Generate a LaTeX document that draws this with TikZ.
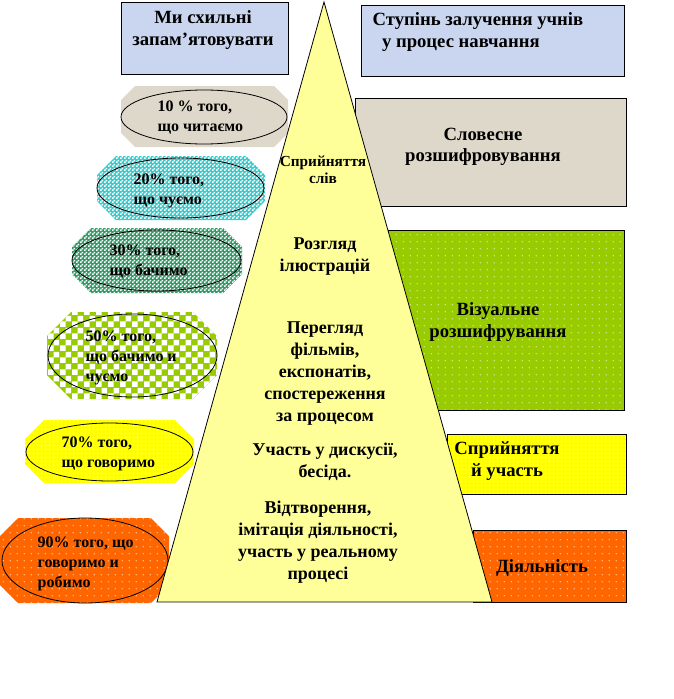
\documentclass[tikz,border=0pt]{standalone}
\usepackage{fontspec}
\setmainfont{Liberation Serif}
\usetikzlibrary{patterns}

\definecolor{topblue}{RGB}{202,214,240}
\definecolor{sand}{RGB}{222,216,202}
\definecolor{pyryellow}{RGB}{255,255,153}
\definecolor{leaf}{RGB}{153,204,0}
\definecolor{fire}{RGB}{255,102,0}
\definecolor{sea}{RGB}{51,153,102}
\definecolor{aqua}{RGB}{51,204,204}
\definecolor{lemon}{RGB}{255,255,0}

\pgfdeclarepatternformonly{finechecks}{\pgfpointorigin}{\pgfqpoint{3pt}{3pt}}{\pgfqpoint{3pt}{3pt}}{%
  \pgfpathrectangle{\pgfpointorigin}{\pgfqpoint{1.5pt}{1.5pt}}%
  \pgfpathrectangle{\pgfqpoint{1.5pt}{1.5pt}}{\pgfqpoint{1.5pt}{1.5pt}}%
  \pgfusepath{fill}}
\pgfdeclarepatternformonly{bigchecks}{\pgfpointorigin}{\pgfqpoint{9pt}{9pt}}{\pgfqpoint{9pt}{9pt}}{%
  \pgfpathrectangle{\pgfpointorigin}{\pgfqpoint{4.5pt}{4.5pt}}%
  \pgfpathrectangle{\pgfqpoint{4.5pt}{4.5pt}}{\pgfqpoint{4.5pt}{4.5pt}}%
  \pgfusepath{fill}}
\pgfdeclarepatternformonly{whitedots}{\pgfpointorigin}{\pgfqpoint{5pt}{5pt}}{\pgfqpoint{5pt}{5pt}}{%
  \pgfpathcircle{\pgfqpoint{2.5pt}{2.5pt}}{0.45pt}%
  \pgfusepath{fill}}
\pgfdeclarepatternformonly{bubbledots}{\pgfpointorigin}{\pgfqpoint{3pt}{3pt}}{\pgfqpoint{3pt}{3pt}}{%
  \pgfpathcircle{\pgfqpoint{1.5pt}{1.5pt}}{0.75pt}%
  \pgfusepath{fill}}

% octagon-like fill round each bubble
\newcommand{\octagon}[5]{(#1+#5,#2) -- (#3-#5,#2) -- (#3,#2+#5) -- (#3,#4-#5) -- (#3-#5,#4) -- (#1+#5,#4) -- (#1,#4-#5) -- (#1,#2+#5) -- cycle}

\begin{document}
\begin{tikzpicture}[x=0.75pt, y=-0.75pt,
    outline/.style={draw=black, line width=0.6pt},
    headtext/.style={font=\fontsize{14}{17}\selectfont\bfseries, align=center},
    boxtext/.style={font=\fontsize{14}{16}\selectfont\bfseries, align=center},
    pyrtext/.style={font=\fontsize{13.5}{16.5}\selectfont\bfseries, align=center},
    bubtext/.style={font=\fontsize{12}{15}\selectfont\bfseries, align=left, anchor=west},
    aquafill/.style={preaction={fill=aqua}, pattern=finechecks, pattern color=white},
    seafill/.style={preaction={fill=sea}, pattern=finechecks, pattern color=white},
    leafchecks/.style={preaction={fill=leaf}, pattern=bigchecks, pattern color=white},
    leafdots/.style={preaction={fill=leaf}, pattern=whitedots, pattern color=white},
    firedots/.style={preaction={fill=fire}, pattern=whitedots, pattern color=white},
    lemonfill/.style={preaction={fill=lemon}, pattern=bubbledots, pattern color=white!70!lemon}]
    \useasboundingbox[fill=white] (0,0) rectangle (674,699);

    % Draw the heading boxes
    \draw[outline, fill=topblue] (121,2) rectangle (288,74);
    \draw[outline, fill=topblue] (361,5) rectangle (624,76);
    \node[headtext] (memory) at (203,30) {Ми схильні\\запам’ятовувати};
    \node[headtext, align=left, anchor=west] (engage) at (368,32) {Ступінь залучення учнів\\\ \ у процес навчання};

    % Draw the bubbles on the left
    \fill[sand] \octagon{121}{86}{288}{147}{14};
    \draw[outline] (204,117) ellipse [x radius=83, y radius=27];
    \fill[aquafill] \octagon{97}{156}{265}{220}{19};
    \draw[outline] (180.5,188) ellipse [x radius=83.5, y radius=30];
    \fill[seafill] \octagon{72}{228}{242}{293}{19};
    \draw[outline] (156.5,260.5) ellipse [x radius=84.5, y radius=30.5];
    \fill[leafchecks] \octagon{47}{312}{217}{399}{24};
    \draw[outline] (132.5,355.5) ellipse [x radius=84.5, y radius=41.5];
    \fill[lemonfill] \octagon{25}{420}{194}{483}{19};
    \draw[outline] (109.5,452) ellipse [x radius=83.5, y radius=29];
    \fill[firedots] \octagon{0}{518}{169}{603}{18};
    \draw[outline] (85,560.5) ellipse [x radius=83, y radius=42.5];

    % Labels in the bubbles
    \node[bubtext] (read) at (153,118) {10 \% того,\\ що читаємо};
    \node[bubtext] (hear) at (129,191) {20\% того,\\що чуємо};
    \node[bubtext] (see) at (105,262) {30\% того,\\що бачимо};
    \node[bubtext] (watch) at (81,358) {50\% того,\\що бачимо и\\чуємо};
    \node[bubtext] (say) at (57,454) {70\% того,\\що говоримо};
    \node[bubtext] (act) at (33,564) {90\% того, що\\говоримо и\\робимо};

    % Draw the boxes on the right
    \draw[outline, fill=sand] (355,98) rectangle (626,206);
    \draw[outline, leafdots] (388,230) rectangle (624,410);
    \draw[outline, lemonfill] (447,434) rectangle (626,494);
    \draw[outline, firedots] (473,530) rectangle (626,602);

    % Draw the pyramid
    \draw[outline, fill=pyryellow] (324,2) -- (492,602) -- (157,602) -- cycle;

    % Labels in the boxes
    \node[boxtext] (verbal) at (483,147) {Словесне\\розшифровування};
    \node[boxtext] (visual) at (498,322) {Візуальне\\розшифрування};
    \node[boxtext] (involve) at (507,461) {Сприйняття\\й участь};
    \node[boxtext] (activity) at (542,568) {Діяльність};

    % Labels in the pyramid
    \node[align=center, font=\fontsize{11.5}{13}\selectfont\bfseries] (words) at (323,170) {Сприйняття\\слів};
    \node[pyrtext] (pictures) at (325,257) {Розгляд\\ілюстрацій};
    \node[pyrtext] (films) at (325,374) {Перегляд\\фільмів,\\експонатів,\\спостереження\\за процесом};
    \node[pyrtext] (talk) at (325,462) {Участь у дискусії,\\бесіда.};
    \node[pyrtext] (doing) at (318,542) {Відтворення,\\імітація діяльності,\\участь у реальному\\процесі};
\end{tikzpicture}
\end{document}
